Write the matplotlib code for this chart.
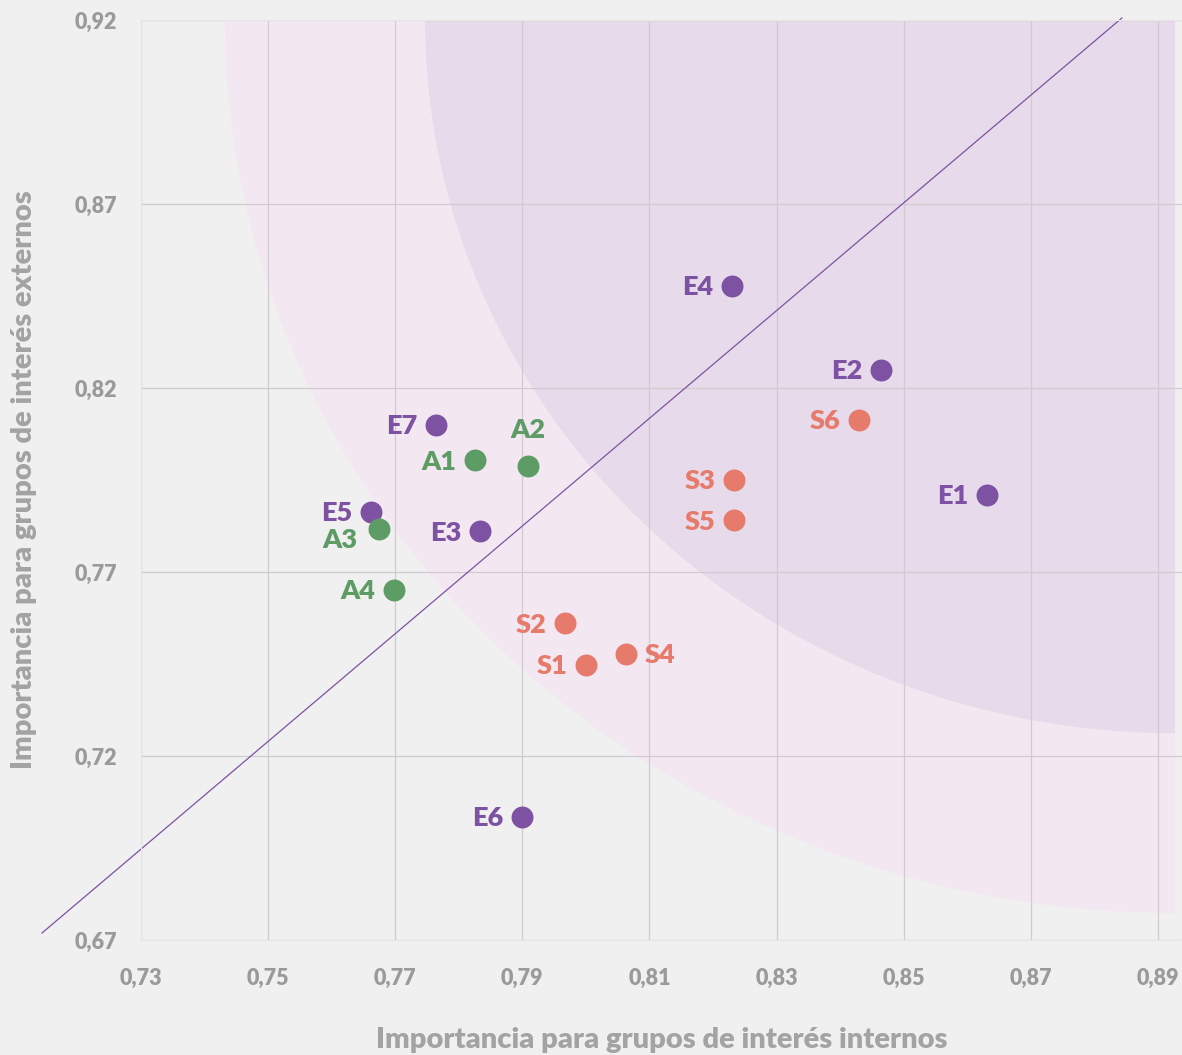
import matplotlib
matplotlib.use("Agg")
import matplotlib.pyplot as plt
import numpy as np

plt.rcParams['font.family'] = ['Lato', 'DejaVu Sans']

# ---- data ----
labels = ["E1", "E2", "E3", "E4", "E5", "E6", "E7",
          "S1", "S2", "S3", "S4", "S5", "S6",
          "A1", "A2", "A3", "A4"]
x_int = [0.8631, 0.8464, 0.7833, 0.8230, 0.7662, 0.7900, 0.7764,
         0.8000, 0.7967, 0.8233, 0.8063, 0.8233, 0.8430,
         0.7825, 0.7909, 0.7674, 0.7698]
y_ext = [0.7909, 0.8249, 0.7811, 0.8477, 0.7863, 0.7034, 0.8100,
         0.7447, 0.7561, 0.7950, 0.7477, 0.7841, 0.8113,
         0.8004, 0.7988, 0.7817, 0.7651]
groups = ["E"] * 7 + ["S"] * 6 + ["A"] * 4

x_ticks = [0.73, 0.75, 0.77, 0.79, 0.81, 0.83, 0.85, 0.87, 0.89]
y_ticks = [0.67, 0.72, 0.77, 0.82, 0.87, 0.92]

colors = {"E": "#7e52a3", "S": "#e77b6b", "A": "#5e9c65"}

# label placement (offset in points, alignment)
label_pos = {l: ((-13.5, -1), "right", "center") for l in labels}
label_pos["A2"] = ((0, 26), "center", "center")
label_pos["A3"] = ((-15, -8), "right", "center")
label_pos["S4"] = ((13.5, -1), "left", "center")

# ---- figure ----
W, H = 1182, 1055
fig = plt.figure(figsize=(W / 100, H / 100), dpi=100, facecolor="#f0f0f0")
ax = fig.add_axes([141 / W, (H - 940) / H, (1182 - 141) / W, (940 - 20) / H])
ax.set_facecolor("#f0f0f0")
ax.set_xlim(0.73, 0.8938)
ax.set_ylim(0.67, 0.92)

# shaded quarter-ellipse zones centered at top-right
cx, cy = 0.8927, 0.92
t = np.linspace(np.pi, 1.5 * np.pi, 200)
for rx, ry, col in [(0.1495, 0.2427, "#f3e8f2"), (0.1180, 0.1938, "#e7daea")]:
    xs = np.concatenate([[cx], cx + rx * np.cos(t), [cx]])
    ys = np.concatenate([[cy], cy + ry * np.sin(t), [cy]])
    ax.fill(xs, ys, color=col, lw=0, zorder=0.2)

ax.set_xticks(x_ticks)
ax.set_yticks(y_ticks)
ax.set_xticklabels([f"{v:.2f}".replace(".", ",") for v in x_ticks])
ax.set_yticklabels([f"{v:.2f}".replace(".", ",") for v in y_ticks])
ax.tick_params(length=0, labelsize=15.5, labelcolor="#9a9a9a")
ax.tick_params(axis="y", pad=17)
ax.tick_params(axis="x", pad=20)
for lab in ax.get_xticklabels() + ax.get_yticklabels():
    lab.set_fontweight("heavy")
ax.grid(True, color="#cfcbd0", lw=0.9)
ax.set_axisbelow(True)
for s in ax.spines.values():
    s.set_color("#e6e6e6")
    s.set_linewidth(0.8)

# diagonal reference line
ax.plot([0.71442, 0.88434], [0.6719, 0.92054], color="#7e52a3", lw=0.9,
        clip_on=False, zorder=2)

# points
for l, xv, yv, g in zip(labels, x_int, y_ext, groups):
    ax.scatter([xv], [yv], s=250, color=colors[g], zorder=3, linewidths=0)
    (dx, dy), ha, va = label_pos[l]
    ax.annotate(l, (xv, yv), xytext=(dx, dy), textcoords="offset points",
                ha=ha, va=va, fontsize=19.5, fontweight="heavy",
                color=colors[g], zorder=4)

ax.set_xlabel("Importancia para grupos de interés internos", fontsize=21,
              fontweight="heavy", color="#a3a3a3")
ax.xaxis.set_label_coords((662 - 141) / (1182 - 141), -(1040 - 940) / 920)
ax.set_ylabel("Importancia para grupos de interés externos", fontsize=21,
              fontweight="heavy", color="#a3a3a3")
ax.yaxis.set_label_coords(-(141 - 24) / (1182 - 141), (940 - 480) / 920)
ax.xaxis.label.set_va("center")
ax.yaxis.label.set_va("center")

fig.savefig("out.png", dpi=100, facecolor=fig.get_facecolor())
